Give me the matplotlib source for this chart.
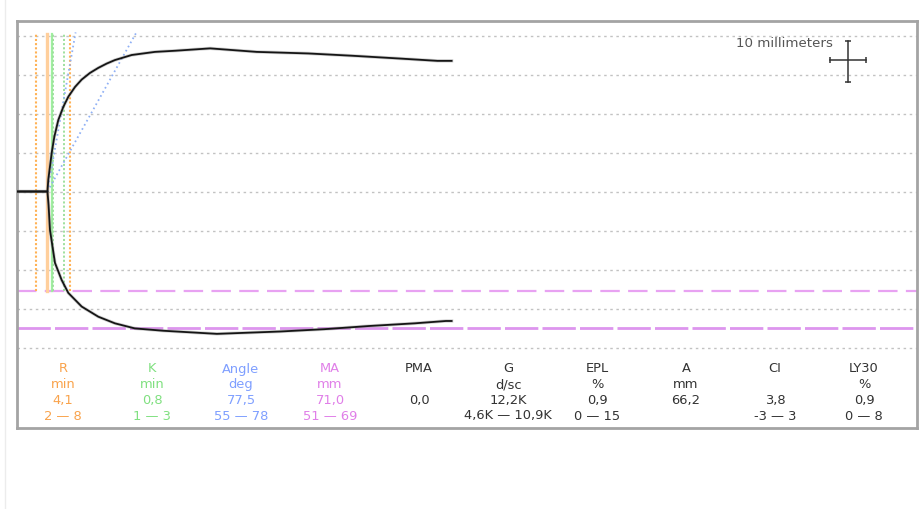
import math
import matplotlib
matplotlib.use("Agg")
import matplotlib.pyplot as plt
from matplotlib.lines import Line2D

plt.rcParams["font.family"] = ["DejaVu Sans"]
plt.rcParams["lines.scale_dashes"] = False

# ---- clot trace (time in minutes, half-amplitude in mm) ----
upper_t = [-1.5, 4.1, 4.25, 4.85, 5.31, 6.01, 6.9, 7.78, 8.96, 10.14, 11.6, 13.07,
           14.55, 16.0, 18.96, 23.07, 26.7, 32.8, 41.0, 50.1, 58.0, 66.2, 72.9, 75.4]
upper_mm = [0, 0, 3.0, 9.9, 14.0, 18.3, 21.7, 24.3, 26.8, 28.7, 30.4, 31.7,
            32.8, 33.7, 35.0, 35.8, 36.1, 36.7, 35.8, 35.4, 34.8, 34.1, 33.5, 33.5]

lower_t = [-1.5, 4.1, 4.3, 4.55, 5.43, 6.61, 7.78, 10.14, 13.07, 16.0, 19.5,
           24.5, 34.0, 45.1, 53.0, 60.7, 68.9, 74.4, 75.4]
lower_mm = [0, 0, -3.5, -9.9, -18.3, -22.7, -26.0, -29.5, -32.1, -33.8, -35.1,
            -35.7, -36.5, -35.9, -35.3, -34.5, -33.8, -33.2, -33.2]

# ---- results table ----
params = ["R", "K", "Angle", "MA", "PMA", "G", "EPL", "A", "CI", "LY30"]
units = ["min", "min", "deg", "mm", "", "d/sc", "%", "mm", "", "%"]
values = [4.1, 0.8, 77.5, 71.0, 0.0, 12.2, 0.9, 66.2, 3.8, 0.9]
suffix = ["", "", "", "", "", "K", "", "", "", ""]
ranges = ["2 — 8", "1 — 3", "55 — 78", "51 — 69", "", "4,6K — 10,9K",
          "0 — 15", "", "-3 — 3", "0 — 8"]

# reference limits
R_range = [2, 8]
K_range = [1, 3]
angle_range = [55, 78]
MA_range = [51, 69]

R_val, K_val, angle_val = values[0], values[1], values[2]

ORANGE = "#f9a34c"
GREEN = "#80e080"
BLUE = "#7f9fff"
VIOLET = "#e07fe8"
DARK = "#333333"
col_colors = [ORANGE, GREEN, BLUE, VIOLET] + [DARK] * 6

fig = plt.figure(figsize=(9.22, 5.09), dpi=100)
W, H = 922, 509
ax = fig.add_axes([17 / W, (H - 428) / H, 900 / W, 407 / H])
ax.set_xlim(-1.27, 157.5)
ax.set_ylim(-60.64, 43.72)
ax.set_xticks([])
ax.set_yticks([])
for s in ax.spines.values():
    s.set_color("#a4a4a4")
    s.set_linewidth(2.0)

# faint panel edge at the far left
fig.add_artist(Line2D([4.5 / W, 4.5 / W], [0.0, 1.0], color="#ececec", lw=1))

# horizontal grid every 10 mm
for g in [40, 30, 20, 10, 0, -10, -20, -30, -40]:
    ax.axhline(g, color="#c2c2c2", lw=1.0, dashes=(1.8, 2.6), zorder=1)

# MA reference band (lower branch)
ax.axhline(-MA_range[0] / 2, color="#e8a2f2", lw=1.6, dashes=(14, 6), zorder=2)
ax.axhline(-MA_range[1] / 2 - 0.6, color="#dd95ee", lw=2.0, dashes=(24, 3), zorder=2)

# vertical R / K markers
vtop, vbot = 40.5, -MA_range[0] / 2
for r in R_range:
    ax.plot([r, r], [vbot, vtop], color="#ffb255", lw=1.5, dashes=(1.5, 1.5), zorder=2)
ax.plot([R_val, R_val], [vbot, vtop], color="#ffcf9c", lw=2.4, zorder=2)
ax.plot([R_val + K_val, R_val + K_val], [vbot, vtop], color="#9ff09f", lw=1.6, zorder=2)
for k in K_range:
    ax.plot([R_val + k, R_val + k], [vbot, vtop], color="#9fe09f", lw=1.4,
            dashes=(1.5, 1.5), zorder=2)

# angle lines from the R point
PAPER_SPEED = 1.82  # mm per minute along the time axis
for ang in [angle_val, angle_range[0]]:
    slope = PAPER_SPEED * math.tan(math.radians(ang))
    top = 40.8
    ax.plot([R_val, R_val + top / slope], [0, top], color="#8fb0f5", lw=1.3,
            dashes=(1.2, 2.2), zorder=3)

# trace
for tt, yy in [(upper_t, upper_mm), (lower_t, lower_mm)]:
    ax.plot(tt, yy, color="#999999", lw=2.4, alpha=0.45, zorder=4,
            solid_joinstyle="round")
    ax.plot(tt, yy, color="#151515", lw=1.3, zorder=5, solid_joinstyle="round")

# scale marker: 10 mm
cx, cy = 145.3, 33.4
ax.plot([cx, cx], [cy - 5.25, cy + 5.25], color="#333", lw=1.1, zorder=5)
ax.plot([cx - 3.15, cx + 3.15], [cy + 0.3, cy + 0.3], color="#333", lw=1.1, zorder=5)
ax.plot([cx, cx], [cy - 5.25, cy + 5.25], ls="none", marker="_", ms=4, mew=1.1,
        color="#333")
ax.plot([cx - 3.15, cx + 3.15], [cy + 0.3, cy + 0.3], ls="none", marker="|", ms=4,
        mew=1.1, color="#333")
ax.text(142.6, 38.0, "10 millimeters", ha="right", va="center", fontsize=9.6,
        color="#555555")


def fmt(v, suf):
    return f"{v:.1f}".replace(".", ",") + suf


rows_px = [369, 384.7, 400.3, 416]
for i, name in enumerate(params):
    xc = (63 + 89 * i - 17) / 900
    cells = [name, units[i], fmt(values[i], suffix[i]), ranges[i]]
    for txt, ypx in zip(cells, rows_px):
        if not txt:
            continue
        ax.text(xc, (428 - ypx) / 407, txt, transform=ax.transAxes, ha="center",
                va="center", fontsize=9.4, color=col_colors[i])

fig.savefig("out.png", dpi=100, facecolor="white")
